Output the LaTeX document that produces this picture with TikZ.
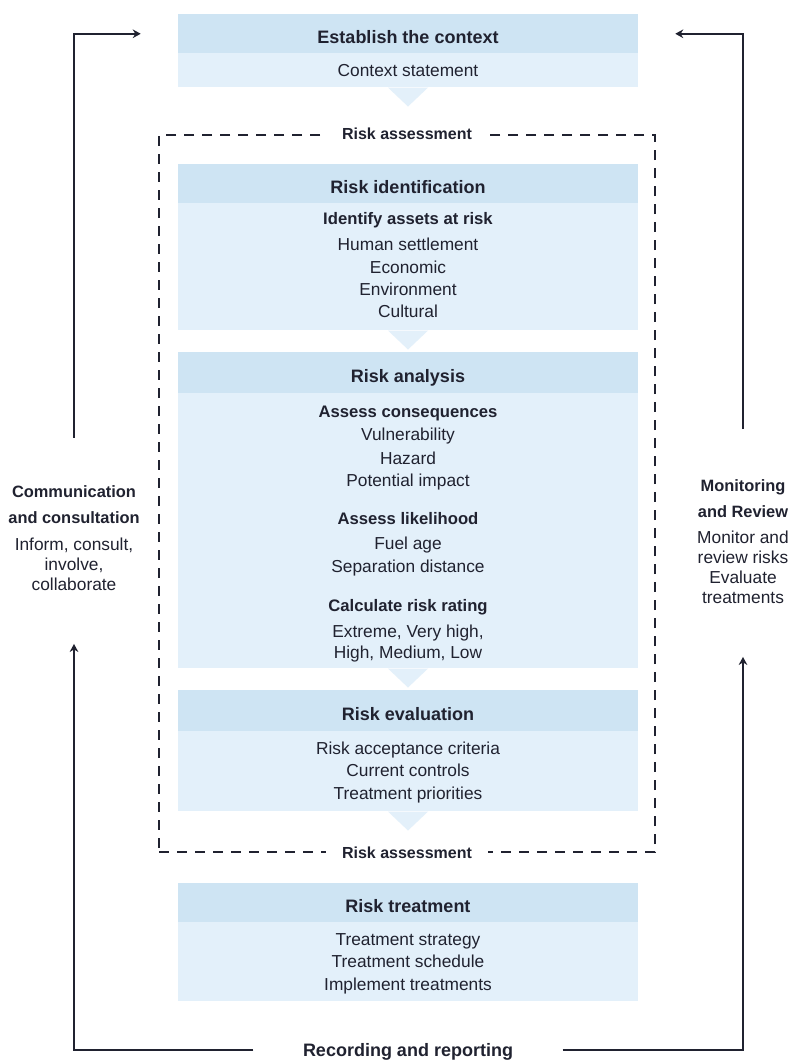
\documentclass[tikz,border=0pt]{standalone}
\usepackage{fontspec}
\setmainfont{Liberation Sans}
\usetikzlibrary{arrows.meta,calc}
\definecolor{hdr}{RGB}{206,228,243}
\definecolor{bdy}{RGB}{227,240,250}
\definecolor{ink}{RGB}{32,34,48}
\begin{document}
\begin{tikzpicture}[x=0.75pt,y=-0.75pt,
  hd/.style={fill=hdr, minimum width=345pt, minimum height=#1, inner sep=0pt, anchor=north,
    font=\fontsize{13.5}{16}\selectfont\bfseries, text=ink, text height=14.5pt, text depth=0pt},
  bd/.style={fill=bdy, minimum width=345pt, minimum height=#1, inner sep=0pt, anchor=north},
  tx/.style={font=\fontsize{13}{16}\selectfont, text=ink, inner sep=0pt, text height=9.3pt, text depth=0pt},
  sub/.style={font=\fontsize{12.5}{16}\selectfont\bfseries, text=ink, inner sep=0pt, text height=9pt, text depth=0pt},
  lab/.style={font=\fontsize{12}{14}\selectfont\bfseries, text=ink, fill=white, inner ysep=2pt, inner xsep=#1},
  side/.style={font=\fontsize{12.3}{19.5}\selectfont\bfseries, text=ink, align=center, inner sep=0pt},
  sideb/.style={font=\fontsize{13}{15}\selectfont, text=ink, align=center, inner sep=0pt},
  frame/.style={draw=ink, line width=1.1pt, dash pattern=on 7.5pt off 6pt},
  conn/.style={draw=ink, line width=1.1pt},
  arr/.style={conn, -{Stealth[length=6pt,width=6.5pt]}},
]
\useasboundingbox[fill=white] (0,0) rectangle (794,1061);

% Establish the context
\node[hd=29.25pt] (ctxh) at (408,14) {Establish the context};
\node[bd=25.5pt] (ctxb) at (408,53) {};
\node[tx] (ctx1) at (408,70) {Context statement};
\fill[bdy] ($(ctxb.south)+(-20,0)$) -- ($(ctxb.south)+(20,0)$) -- ($(ctxb.south)+(0,19)$) -- cycle;

% Risk assessment frame
\node[frame, minimum width=372pt, minimum height=537.75pt, inner sep=0pt] (rframe) at (407,493.5) {};

% Risk identification
\node[hd=29.25pt] (rih) at (408,164) {Risk identification};
\node[bd=95.25pt] (rib) at (408,203) {};
\node[sub] (ri0) at (408,218) {Identify assets at risk};
\node[tx] (ri1) at (408,244) {Human settlement};
\node[tx] (ri2) at (408,267) {Economic};
\node[tx] (ri3) at (408,289) {Environment};
\node[tx] (ri4) at (408,311) {Cultural};
\fill[bdy] ($(rib.south)+(-20,0)$) -- ($(rib.south)+(20,0)$) -- ($(rib.south)+(0,19)$) -- cycle;

% Risk analysis
\node[hd=30.75pt] (rah) at (408,352) {Risk analysis};
\node[bd=206.25pt] (rab) at (408,393) {};
\node[sub] (ra0) at (408,411) {Assess consequences};
\node[tx] (ra1) at (408,434) {Vulnerability};
\node[tx] (ra2) at (408,458) {Hazard};
\node[tx] (ra3) at (408,480) {Potential impact};
\node[sub] (ra4) at (408,518) {Assess likelihood};
\node[tx] (ra5) at (408,543) {Fuel age};
\node[tx] (ra6) at (408,566) {Separation distance};
\node[sub] (ra7) at (408,605) {Calculate risk rating};
\node[tx] (ra8) at (408,631) {Extreme, Very high,};
\node[tx] (ra9) at (408,652) {High, Medium, Low};
\fill[bdy] ($(rab.south)+(-20,0)$) -- ($(rab.south)+(20,0)$) -- ($(rab.south)+(0,19)$) -- cycle;

% Risk evaluation
\node[hd=30.75pt] (reh) at (408,690) {Risk evaluation};
\node[bd=60pt] (reb) at (408,731) {};
\node[tx] (re1) at (408,748) {Risk acceptance criteria};
\node[tx] (re2) at (408,770) {Current controls};
\node[tx] (re3) at (408,793) {Treatment priorities};
\fill[bdy] ($(reb.south)+(-20,0)$) -- ($(reb.south)+(20,0)$) -- ($(reb.south)+(0,19)$) -- cycle;

% frame labels
\node[lab=12pt] (rtop) at (rframe.north) {Risk assessment};
\node[lab=12pt] (rbot) at (rframe.south) {Risk assessment};

% Risk treatment
\node[hd=29.25pt] (rth) at (408,883) {Risk treatment};
\node[bd=59.25pt] (rtb) at (408,922) {};
\node[tx] (rt1) at (408,939) {Treatment strategy};
\node[tx] (rt2) at (408,961) {Treatment schedule};
\node[tx] (rt3) at (408,984) {Implement treatments};

% side texts
\node[side] (commh) at (74,505) {Communication\\and consultation};
\node[sideb] (commb) at (74,564) {Inform, consult,\\involve,\\collaborate};
\node[side] (monh) at (743,499) {Monitoring\\and Review};
\node[sideb] (monb) at (743,567) {Monitor and\\review risks\\Evaluate\\treatments};

% bottom label
\node[lab=37pt, font=\fontsize{13.5}{16}\selectfont\bfseries, text height=9.7pt, text depth=0pt] (rec) at (408,1050) {Recording and reporting};

% connectors
\draw[arr, shorten <=36pt] (commh.north) |- ($(ctxh.west)+(-37,0)$);
\draw[arr, shorten <=38pt] (monh.north) |- ($(ctxh.east)+(37,0)$);
\draw[arr, shorten >=40pt] (rec.west) -| (commb.south);
\draw[arr, shorten >=40pt] (rec.east) -| (monb.south);
\end{tikzpicture}
\end{document}
